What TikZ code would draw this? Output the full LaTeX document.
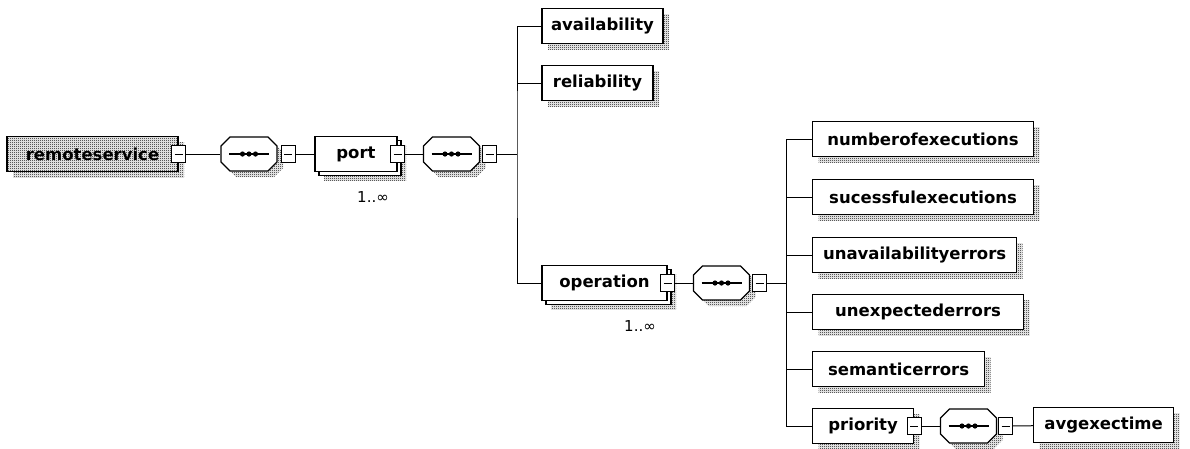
\documentclass[tikz,border=0pt]{standalone}
\usepackage{fontspec}
\setmainfont{DejaVu Sans}
\usetikzlibrary{shapes.misc,shadows,patterns}

\pgfdeclarepatternformonly{checker}{\pgfpointorigin}{\pgfpoint{2pt}{2pt}}{\pgfpoint{2pt}{2pt}}{%
  \pgfpathrectangle{\pgfpointorigin}{\pgfpoint{1pt}{1pt}}%
  \pgfpathrectangle{\pgfpoint{1pt}{1pt}}{\pgfpoint{1pt}{1pt}}%
  \pgfusepath{fill}}

\newcommand{\elemfont}{\bfseries\fontsize{16.5}{20}\selectfont}

\begin{document}
\begin{tikzpicture}[x=1pt,y=-1pt,
  conn/.style={line width=1pt},
  dotshade/.style={drop shadow={shadow xshift=#1,shadow yshift=-#1,opacity=1,pattern=checker,pattern color=black}},
  elem/.style={draw,fill=white,line width=1.2pt,minimum height=35,inner sep=0,font=\elemfont},
  single/.style={elem,dotshade=6pt},
  multi/.style={elem,dotshade=9pt,copy shadow={shadow xshift=4pt,shadow yshift=-4pt,draw,fill=white,line width=1.2pt}},
  root/.style={single,preaction={fill=white},pattern=checker,pattern color=black},
  minus/.style={draw,fill=white,line width=1pt,minimum width=14,minimum height=17,inner sep=0,
    path picture={\draw[line width=1pt] ([xshift=3pt]path picture bounding box.west) -- ([xshift=-3pt]path picture bounding box.east);}},
  seq/.style={chamfered rectangle,chamfered rectangle xsep=4pt,chamfered rectangle ysep=5pt,
    text width=48pt,text height=12pt,text depth=12pt,inner sep=0,
    draw,fill=white,line width=1.2pt,dotshade=6pt,
    path picture={
      \draw[line width=1.2pt] ([xshift=8pt]path picture bounding box.west) -- ([xshift=-8pt]path picture bounding box.east);
      \foreach \d in {-6.5,0,6.5}
        \fill[black] ([xshift=\d pt]path picture bounding box.center) circle[radius=2.6pt];}},
  occurs/.style={font=\fontsize{15}{18}\selectfont}]
\useasboundingbox (0,0) rectangle (1190,448);

\node[root,minimum width=171] (rs) at (92.5,154) {remoteservice};
\node[minus] (rsm) at (rs.east) {};
\node[seq] (sq1) at (249,154) {};
\node[minus,anchor=west] (sq1m) at ([xshift=3pt]sq1.east) {};
\node[multi,minimum width=82] (port) at (356,154) {port};
\node[minus] (portm) at (port.east) {};
\node[occurs] (portocc) at (373,197) {1..∞};
\node[seq] (sq2) at (451.5,154) {};
\node[minus,anchor=west] (sq2m) at ([xshift=2pt]sq2.east) {};
\coordinate (t1) at (517,154);

\node[single,minimum width=121] (avail) at (602.5,26) {availability};
\node[single,minimum width=111] (rel) at (597.5,83) {reliability};
\node[multi,minimum width=125] (op) at (604.5,283) {operation};
\node[minus] (opm) at (op.east) {};
\node[occurs] (opocc) at (640,326) {1..∞};
\node[seq] (sq3) at (721.5,283) {};
\node[minus,anchor=west] (sq3m) at ([xshift=2pt]sq3.east) {};
\coordinate (t2) at (786,283);

\node[single,anchor=west,minimum width=221] (noe) at (812,139) {numberofexecutions};
\node[single,anchor=west,minimum width=221] (suc) at (812,197) {sucessfulexecutions};
\node[single,anchor=west,minimum width=204] (una) at (812,255) {unavailabilityerrors};
\node[single,anchor=west,minimum width=211] (une) at (812,312) {unexpectederrors};
\node[single,anchor=west,minimum width=172] (sem) at (812,369) {semanticerrors};
\node[single,anchor=west,minimum width=101] (pri) at (812,426) {priority};
\node[minus] (prim) at (pri.east) {};
\node[seq] (sq4) at (968.5,426) {};
\node[minus,anchor=west] (sq4m) at ([xshift=1pt]sq4.east) {};
\node[single,anchor=west,minimum width=140] (avg) at (1033,425) {avgexectime};

\draw[conn] (rsm) -- (sq1);
\draw[conn] (sq1m) -- (port);
\draw[conn] (portm) -- (sq2);
\draw[conn] (sq2m) -- (t1);
\draw[conn] (avail.west) -| (t1) |- (op.west);
\draw[conn] (rel.west) -- (rel.west -| t1);
\draw[conn] (opm) -- (sq3);
\draw[conn] (sq3m) -- (t2);
\draw[conn] (noe.west) -| (t2) |- (pri.west);
\foreach \c in {suc,una,une,sem}
  \draw[conn] (\c.west) -- (\c.west -| t2);
\draw[conn] (prim) -- (sq4);
\draw[conn] (sq4m) -- (avg);
\end{tikzpicture}
\end{document}
